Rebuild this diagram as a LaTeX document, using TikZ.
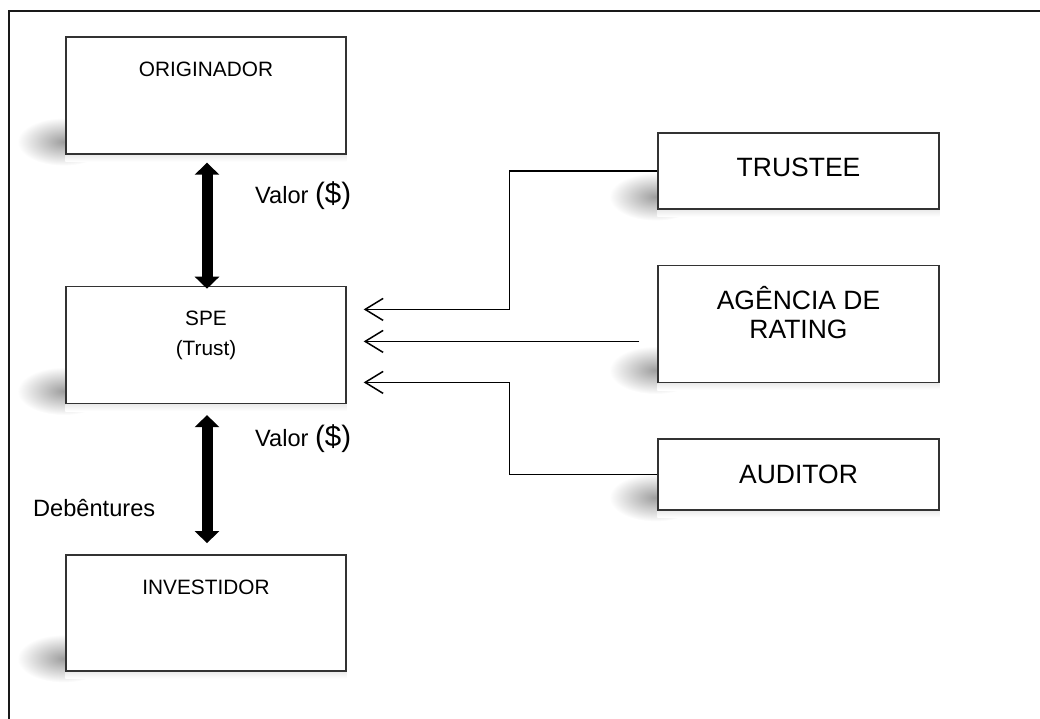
\documentclass[tikz,border=0pt]{standalone}
\usepackage{fontspec}
\setmainfont{Liberation Sans}
\usetikzlibrary{positioning,arrows.meta,backgrounds}
\tikzstyle{block} = [rectangle, draw=black!80, line width=1.4pt, fill=white, inner sep=0pt]
\tikzstyle{wide} = [block, minimum width=280pt, minimum height=117pt]
\tikzstyle{side} = [block, minimum width=281pt]
\tikzstyle{flow} = [draw, line width=11pt, {Triangle[length=12pt,width=24pt]}-{Triangle[length=12pt,width=24pt]}]
\tikzstyle{feed} = [draw, line width=1.5pt, -{Straight Barb[length=18pt,width=22pt]}]
\tikzstyle{smalltxt} = [font=\fontsize{20.8}{30}\selectfont, align=center, anchor=base, inner sep=0pt]
\tikzstyle{bigtxt} = [font=\fontsize{26.5}{29}\selectfont, align=center, anchor=base, inner sep=0pt]
\tikzstyle{valtxt} = [font=\fontsize{23.6}{28}\selectfont, anchor=base west, inner sep=0pt]
\newcommand{\dollar}{{\fontsize{29.5}{32}\selectfont(\$)}}

\begin{document}
\begin{tikzpicture}[x=1pt, y=-1pt]
    \useasboundingbox (0,0) rectangle (1040,718);
    % Frame
    \draw[line width=2pt, black!90] (9,725) -- (9,11) -- (1045,11);
    % Place nodes
    \node [wide] (originador) at (206,95.5) {};
    \node [wide, below=131pt of originador] (spe) {};
    \node [wide, below=150pt of spe, minimum height=116pt] (investidor) {};
    \node [side, minimum height=76pt] (trustee) at (798.5,171) {};
    \node [side, minimum height=117pt, below=55pt of trustee] (agencia) {};
    \node [side, minimum height=71pt, below=55pt of agencia] (auditor) {};
    % Texts (base = last line)
    \node [smalltxt] (originadortxt) at ([yshift=-40pt]originador.north) {ORIGINADOR};
    \node [smalltxt] (spetxt) at ([yshift=-70pt]spe.north) {SPE\\(Trust)};
    \node [smalltxt] (investidortxt) at ([yshift=-40pt]investidor.north) {INVESTIDOR};
    \node [bigtxt] (trusteetxt) at ([yshift=-44pt]trustee.north) {TRUSTEE};
    \node [bigtxt] (agenciatxt) at ([yshift=-74pt]agencia.north) {AGÊNCIA DE\\RATING};
    \node [bigtxt] (auditortxt) at ([yshift=-45pt]auditor.north) {AUDITOR};
    \node [valtxt] (valor1) at (255,203) {Valor \dollar};
    \node [valtxt] (valor2) at (255,446) {Valor \dollar};
    \node [valtxt] (debentures) at (33,516) {Debêntures};
    % Shadows
    \begin{scope}[on background layer]
        \foreach \b in {originador,spe,investidor,trustee,agencia,auditor} {
            \shade[inner color=black!38, outer color=white]
                ([xshift=-2pt,yshift=13pt]\b.south west) ellipse (46pt and 24pt);
            \shade[top color=black!8, bottom color=white]
                (\b.south west) rectangle ([yshift=-7pt]\b.south east);
        }
    \end{scope}
    % Draw edges
    \path [flow, shorten <=8pt, shorten >=-3pt] ([xshift=1pt]originador.south) -- ([xshift=1pt]spe.north);
    \path [flow, shorten <=11pt, shorten >=11pt] ([xshift=1pt]spe.south) -- ([xshift=1pt]investidor.north);
    \coordinate (in1) at ([xshift=17pt,yshift=35.5pt]spe.east);
    \coordinate (in2) at ([xshift=17pt,yshift=3.5pt]spe.east);
    \coordinate (in3) at ([xshift=17pt,yshift=-37.5pt]spe.east);
    \path [feed] (trustee.west) -- ++(-148,0) |- (in1);
    \path [feed] ([xshift=-18pt]agencia.west |- in2) -- (in2);
    \path [feed] (auditor.west) -- ++(-148,0) |- (in3);
\end{tikzpicture}
\end{document}
